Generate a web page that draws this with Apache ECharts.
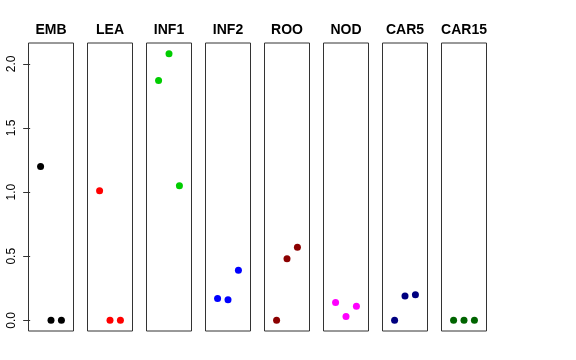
<!DOCTYPE html>
<html><head><meta charset="utf-8">
<script src="https://cdn.jsdelivr.net/npm/echarts@6/dist/echarts.min.js"></script>
<style>html,body{margin:0;padding:0;background:#fff}#c{width:576px;height:360px}</style>
</head><body><div id="c"></div>
<script>
const panels = ["EMB","LEA","INF1","INF2","ROO","NOD","CAR5","CAR15"];
const colors = ["#000000","#FF0000","#00CD00","#0000FF","#8B0000","#FF00FF","#000080","#006400"];
const positions = [1,2,3];
const EMB = [1.20, 0, 0];
const LEA = [1.01, 0, 0];
const INF1 = [1.87, 2.08, 1.05];
const INF2 = [0.17, 0.16, 0.39];
const ROO = [0, 0.48, 0.57];
const NOD = [0.14, 0.03, 0.11];
const CAR5 = [0, 0.19, 0.20];
const CAR15 = [0, 0, 0];
const values = [EMB, LEA, INF1, INF2, ROO, NOD, CAR5, CAR15];
const yTicks = [0, 0.5, 1, 1.5, 2];

(function () {
  const yMin = -0.0832, yMax = 2.1632;
  const grid = [], xAxis = [], yAxis = [], series = [], title = [];
  const left0 = 28.5, step = 59, w = 45, gTop = 43, gH = 288;
  panels.forEach((p, i) => {
    const l = left0 + step * i;
    grid.push({left: l, top: gTop, width: w, height: gH, show: true, borderColor: '#333', borderWidth: 1, backgroundColor: '#fff'});
    xAxis.push({type: 'value', gridIndex: i, min: -0.16, max: 4.16, show: false});
    yAxis.push({
      type: 'value', gridIndex: i, min: yMin, max: yMax, show: i === 0,
      axisLine: {show: false},
      splitLine: {show: false},
      axisTick: {show: i === 0, length: 7, customValues: yTicks, lineStyle: {color: '#333'}},
      axisLabel: {show: i === 0, customValues: yTicks, rotate: 90, margin: 11, fontSize: 12,
        fontFamily: 'Liberation Sans, Arial, sans-serif', color: '#000',
        formatter: v => v.toFixed(1)}
    });
    series.push({
      type: 'scatter', xAxisIndex: i, yAxisIndex: i, symbol: 'circle', symbolSize: 7,
      itemStyle: {color: colors[i], opacity: 1}, silent: true, animation: false,
      data: positions.map((x, k) => [x, values[i][k]])
    });
    title.push({text: p, left: l + w / 2, top: 23, textAlign: 'center', padding: 0,
      textStyle: {fontSize: 14, fontWeight: 'bold', color: '#000', fontFamily: 'Liberation Sans, Arial, sans-serif'}});
  });
  const chart = echarts.init(document.getElementById('c'), null, {renderer: 'canvas'});
  chart.setOption({animation: false, title, grid, xAxis, yAxis, series});
})();
</script></body></html>
